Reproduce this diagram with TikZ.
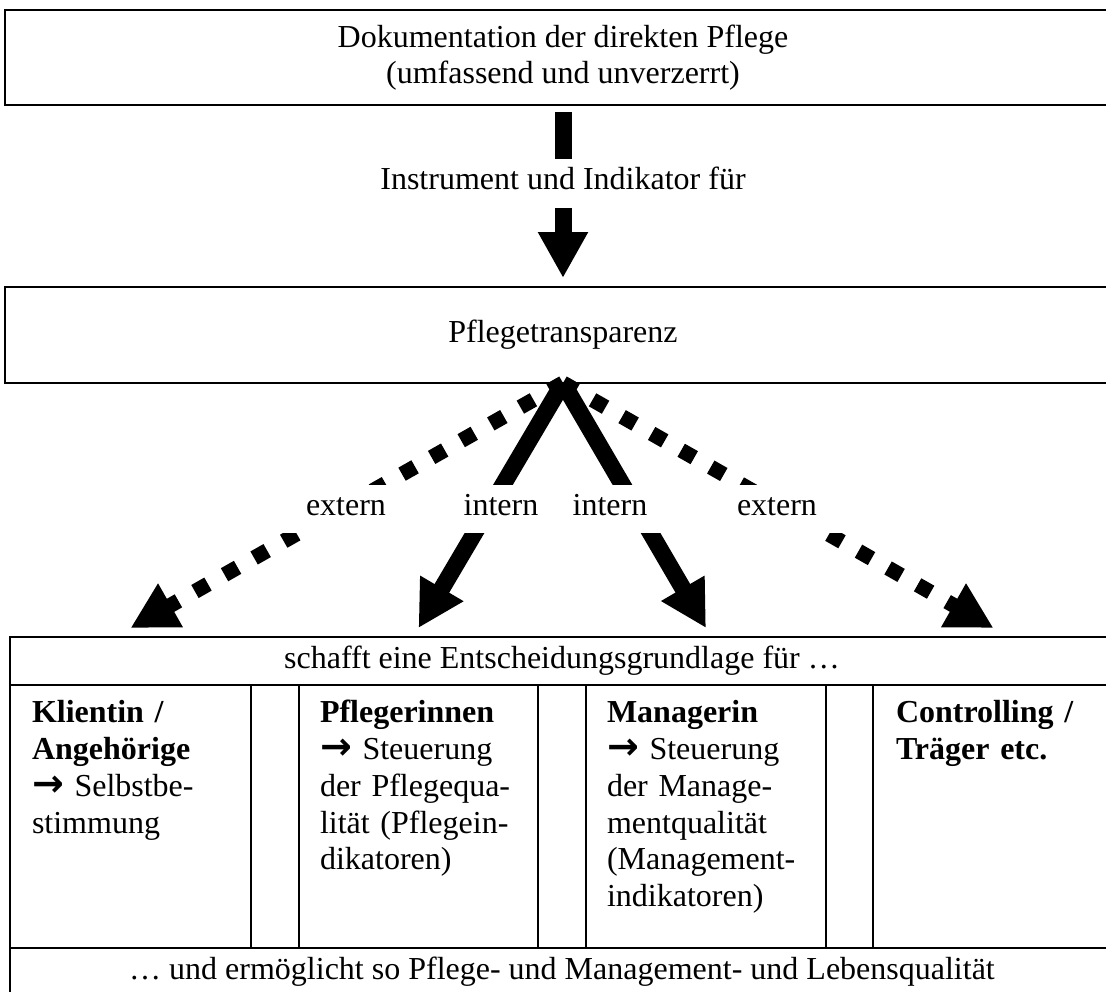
\documentclass[tikz,border=0pt]{standalone}
\usepackage{fontspec}
\setmainfont{Liberation Serif}
\newfontfamily\arrowfont{DejaVu Sans}
\usetikzlibrary{arrows.meta}
\newcommand{\sarrow}{{\arrowfont\bfseries\fontsize{38}{36.7}\selectfont →}}

\begin{document}
\begin{tikzpicture}[x=1pt,y=-1pt,
  every node/.style={font=\fontsize{32}{36.7}\selectfont, outer sep=0pt},
  box/.style={draw, line width=2.4pt, minimum width=1116pt, align=center, inner sep=0pt},
  row/.style={draw, line width=2pt, minimum width=1104pt, minimum height=48pt, anchor=north west, inner sep=0pt},
  cell/.style={draw, line width=2pt, minimum height=263pt, anchor=north west, inner sep=0pt},
  celltext/.style={anchor=north west, text width=205pt, align=left, inner sep=0pt},
  lbl/.style={inner sep=0pt, anchor=base},
  bar/.style={line width=17pt},
  bigarrow/.style={line width=17pt, -{Triangle[length=46pt,width=47pt]}},
  dotarrow/.style={line width=15pt, dash pattern=on 15pt off 19pt, -{Triangle[length=46pt,width=47pt]}},
]
\useasboundingbox (0,0) rectangle (1106,991);
\fill[white] (0,0) rectangle (1106,991);
\clip (0,0) rectangle (1106,991);

% top boxes
\node[box, minimum height=95pt] (doc) at (563,57.5)
  {Dokumentation der direkten Pflege\\(umfassend und unverzerrt)};
\node[lbl, text height=22pt, text depth=0pt] (instr) at (563,189) {Instrument und Indikator für};
\node[box, minimum height=96pt] (transp) at (563,335) {Pflegetransparenz};

\draw[bar, shorten <=7pt, shorten >=8pt] (doc) -- (instr);
\draw[bigarrow, shorten <=19pt, shorten >=9pt] (instr) -- (transp);

% table
\node[row] (hdr) at (10,637) {schafft eine Entscheidungsgrundlage für …};
\node[cell, minimum width=241pt] (c1) at (10,685) {};
\node[cell, minimum width=48pt]  (g1) at (251,685) {};
\node[cell, minimum width=239pt] (c2) at (299,685) {};
\node[cell, minimum width=48pt]  (g2) at (538,685) {};
\node[cell, minimum width=240pt] (c3) at (586,685) {};
\node[cell, minimum width=47pt]  (g3) at (826,685) {};
\node[cell, minimum width=241pt] (c4) at (873,685) {};
\node[row] (ftr) at (10,948) {… und ermöglicht so Pflege- und Management- und Lebensqualität};

\node[celltext] (t1) at ([xshift=22pt,yshift=-12.3pt]c1.north west)
  {\strut\textbf{Klientin /}\\\textbf{Angehörige}\\\sarrow{} Selbstbe-\\stimmung};
\node[celltext] (t2) at ([xshift=21pt,yshift=-12.3pt]c2.north west)
  {\strut\textbf{Pflegerinnen}\\\sarrow{} Steuerung\\der Pflegequa-\\lität (Pflegein-\\dikatoren)};
\node[celltext] (t3) at ([xshift=21pt,yshift=-12.3pt]c3.north west)
  {\strut\textbf{Managerin}\\\sarrow{} Steuerung\\der Manage-\\mentqualität\\(Management-\\indikatoren)};
\node[celltext] (t4) at ([xshift=23pt,yshift=-12.3pt]c4.north west)
  {\strut\textbf{Controlling /}\\\textbf{Träger etc.}};

% arrow targets above the column centres
\coordinate (toK) at (130.5,628);
\coordinate (toP) at (418.5,628);
\coordinate (toM) at (706,628);
\coordinate (toC) at (993.5,628);

\draw[dotarrow] (transp.south) -- (toK);
\draw[dotarrow] (transp.south) -- (toC);
\draw[bigarrow] (transp.south) -- (toP);
\draw[bigarrow] (transp.south) -- (toM);

% label band
\fill[white] (270,485) rectangle (870,533);
\node[lbl] (lK) at (346,515) {extern};
\node[lbl] (lP) at (501,515) {intern};
\node[lbl] (lM) at (610,515) {intern};
\node[lbl] (lC) at (777,515) {extern};
\end{tikzpicture}
\end{document}
